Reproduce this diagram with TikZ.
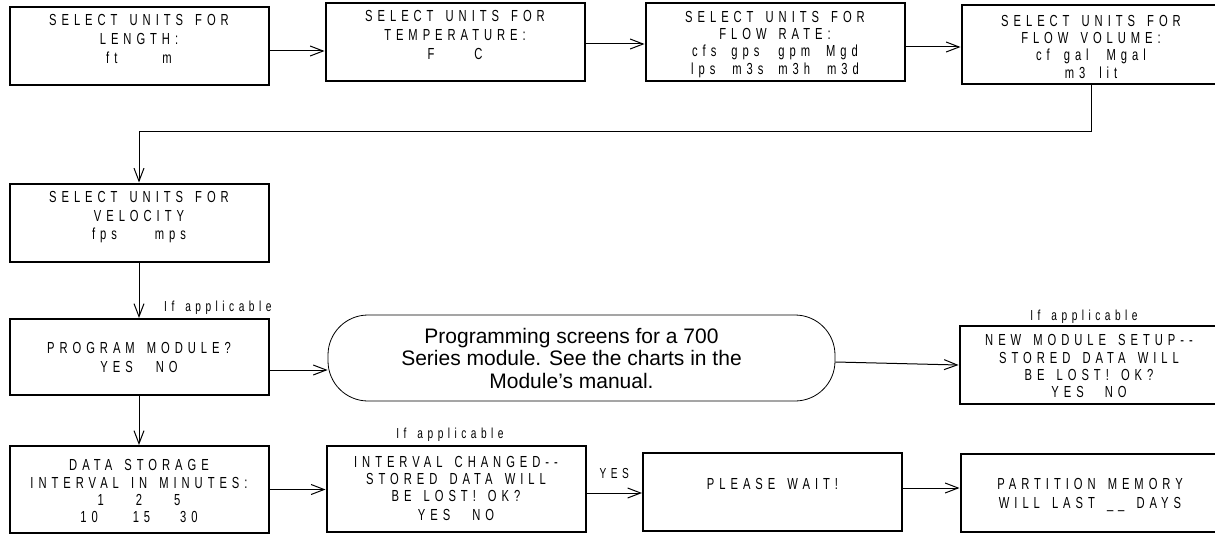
\documentclass[tikz,border=0pt]{standalone}
\usepackage{fontspec}
\setmainfont{Liberation Sans}
\newfontfamily\lcdfont[FakeStretch=0.7, LetterSpace=31, WordSpace=1.5]{Liberation Sans}
\usetikzlibrary{positioning, arrows.meta}

\begin{document}
\begin{tikzpicture}[
		x=1pt, y=-1pt,
		screen/.style={draw=black, line width=2pt, minimum width=259pt, minimum height=78pt, inner sep=0pt},
		lcd/.style={font=\lcdfont\fontsize{16}{17.3}\selectfont, align=center, inner sep=0pt},
		loose/.style={font=\lcdfont\fontsize{16}{18.8}\selectfont},
		note/.style={font=\lcdfont\fontsize{14.5}{16}\selectfont, inner sep=1pt},
		terminal/.style={draw=black, line width=0.8pt, rounded corners=40pt, minimum width=507pt, minimum height=86pt},
		flow/.style={-{Straight Barb[length=13pt, width=10pt]}, line width=1pt, black}
		]
		\useasboundingbox (0,0) rectangle (1215,535);
		
		% 1. Units row
		\node[screen] (len) at (139,46) {};
		\node[lcd, loose, below=8.5pt of len.north] (lenT) {SELECT UNITS FOR\\LENGTH:\\ft\hspace{45pt}m};
		\node[screen] (temp) at (455,42) {};
		\node[lcd, loose, below=8.5pt of temp.north] (tempT) {SELECT UNITS FOR\\TEMPERATURE:\\F\hspace{40pt}C};
		\node[screen] (rate) at (775,42) {};
		\node[lcd, below=9pt of rate.north] (rateT) {SELECT UNITS FOR\\FLOW RATE:\\cfs\hspace{15pt}gps\hspace{19pt}gpm\hspace{16pt}Mgd\\lps\hspace{17pt}m3s\hspace{15pt}m3h\hspace{17pt}m3d};
		\node[screen] (vol) at (1091,44.5) {};
		\node[lcd, below=10.5pt of vol.north] (volT) {SELECT UNITS FOR\\FLOW VOLUME:\\cf\hspace{14pt}gal\hspace{18pt}Mgal\\m3\hspace{14pt}lit};
		
		% 2. Velocity and module screens
		\node[screen] (vel) at (139,222.5) {};
		\node[lcd, loose, below=8.5pt of vel.north] (velT) {SELECT UNITS FOR\\VELOCITY\\fps\hspace{38pt}mps};
		\node[screen, minimum height=76pt] (prog) at (139,357) {};
		\node[lcd, loose, below=24.5pt of prog.north] (progT) {PROGRAM MODULE?\\YES\hspace{23pt}NO};
		\node[note, above right=2pt and 24pt of prog.north] (progIf) {If applicable};
		\node[terminal] (term) at (581.5,358) {};
		\node[align=center, font=\fontsize{21}{22.5}\selectfont, inner sep=0pt, xshift=-10pt] (termT) at (term) {Programming screens for a 700\\Series module. See the charts in the\\Module’s manual.};
		\node[screen] (newmod) at (1089,365) {};
		\node[lcd, below=9.5pt of newmod.north] (newmodT) {NEW MODULE SETUP-{}-\\STORED DATA WILL\\BE LOST! OK?\\YES\hspace{21pt}NO};
		\node[note, above=0pt of newmod.north, xshift=-5pt] (newmodIf) {If applicable};
		
		% 3. Data storage row
		\node[screen, minimum height=87pt] (store) at (139,489.5) {};
		\node[lcd, below=14.5pt of store.north] (storeT) {DATA STORAGE\\INTERVAL IN MINUTES:\\1\hspace{32pt}2\hspace{32pt}5\\10\hspace{35pt}15\hspace{30pt}30};
		\node[screen, minimum height=86pt] (chg) at (456,489) {};
		\node[lcd, below=11pt of chg.north] (chgT) {INTERVAL CHANGED-{}-\\STORED DATA WILL\\BE LOST! OK?\\[1.5pt]YES\hspace{22pt}NO};
		\node[note, above=2pt of chg.north, xshift=-6pt] (chgIf) {If applicable};
		\node[screen] (wait) at (772.5,492) {};
		\node[lcd, below=26pt of wait.north] (waitT) {PLEASE WAIT!};
		\node[screen] (part) at (1090,493) {};
		\node[lcd, loose, below=25pt of part.north] (partT) {PARTITION MEMORY\\WILL LAST \_\_ DAYS};
		
		% Connections
		\draw[flow] ([yshift=-5pt]len.east) -- ([yshift=-5pt]len.east -| temp.west);
		\draw[flow] ([yshift=-2pt]temp.east) -- ([yshift=-2pt]temp.east -| rate.west);
		\draw[flow] ([yshift=-5pt]rate.east) -- ([yshift=-5pt]rate.east -| vol.west);
		\draw[flow] (vol.south) -- ++(0,47) -| (vel.north);
		\draw[flow] (vel.south) -- (prog.north);
		\draw[flow] ([yshift=-13pt]prog.east) -- ([yshift=-13pt]prog.east -| term.west);
		\draw[flow] ([yshift=-4pt]term.east) -- (newmod.west);
		\draw[flow] (prog.south) -- (store.north);
		\draw[flow] (store.east) -- (store.east -| chg.west);
		\draw[flow] ([yshift=-4pt]chg.east) -- ([yshift=-4pt]chg.east -| wait.west) node[midway, note, above=13pt] (yes) {YES};
		\draw[flow] ([yshift=4pt]wait.east) -- ([yshift=4pt]wait.east -| part.west);
		
	\end{tikzpicture}
\end{document}
